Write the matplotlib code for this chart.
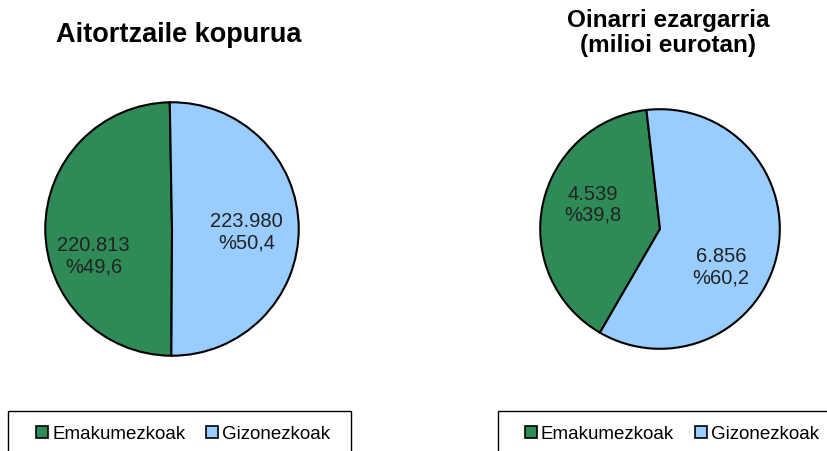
import matplotlib
matplotlib.use('Agg')
import matplotlib.pyplot as plt
from matplotlib.patches import Patch, Rectangle

plt.rcParams['font.family'] = ['Liberation Sans', 'DejaVu Sans']

categories = ['Emakumezkoak', 'Gizonezkoak']
colors     = ['#2e8b57', '#99ccff']

title_left   = 'Aitortzaile kopurua'
values_left  = [220813, 223980]
title_right  = 'Oinarri ezargarria\n(milioi eurotan)'
values_right = [4539, 6856]

def fmt_num(v):
	return '{:,}'.format(v).replace(',', '.')

def fmt_pct(v, total):
	return '%' + ('%.1f' % (100.0 * v / total)).replace('.', ',')

W, H = 827, 452
fig = plt.figure(figsize=(W/100., H/100.), dpi=100)

def draw_pie(box, values, start, title, title_xy, title_size, label_pos):
	cx, cy, r = box
	ax = fig.add_axes([(cx - r)/W, 1 - (cy + r)/H, 2*r/W, 2*r/H])
	total = float(sum(values))
	wedges, _ = ax.pie(values, colors=colors, startangle=start, counterclock=True,
		wedgeprops=dict(edgecolor='black', linewidth=1.5))
	for v, (x, y) in zip(values, label_pos):
		ax.text(x, y, fmt_num(v) + '\n' + fmt_pct(v, total), ha='center', va='center',
			fontsize=14.5, color='#222222', linespacing=1.15)
	ax.set_xlim(-1.01, 1.01)
	ax.set_ylim(-1.01, 1.01)
	ax.set_aspect('equal')
	ax.axis('off')
	fig.text(title_xy[0]/W, 1 - title_xy[1]/H, title, ha='center', va='center',
		fontsize=title_size, fontweight='bold', linespacing=1.1)

draw_pie((172, 230, 128), values_left, 91, title_left, (179, 35), 19.5,
	[(-0.62, -0.21), (0.59, -0.02)])
draw_pie((660, 230, 121), values_right, 96.5, title_right, (668, 33), 17.5,
	[(-0.56, 0.21), (0.51, -0.31)])

# legend frames run off the bottom of the picture
handles = [Patch(facecolor=c, edgecolor='black', linewidth=1.2) for c in colors]
for x0, x1, lx in [(8, 351, 183), (498, 840, 672)]:
	fig.patches.append(Rectangle((x0/W, -0.1), (x1 - x0)/W, 0.1 + (452 - 412)/H,
		transform=fig.transFigure, facecolor='none', edgecolor='black', linewidth=1.0))
	fig.legend(handles, categories, loc='center', bbox_to_anchor=(lx/W, 1 - 435/H),
		ncol=2, frameon=False, fontsize=13.5, handlelength=0.65, handleheight=0.65,
		handletextpad=0.2, columnspacing=1.1)

fig.savefig('out.png', dpi=100)
